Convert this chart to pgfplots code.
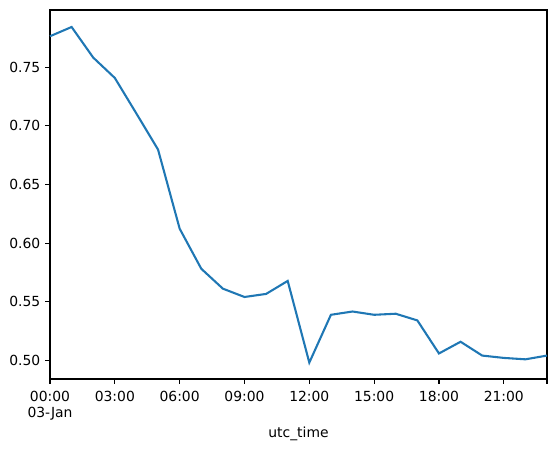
\documentclass[border=0pt]{standalone}
\usepackage{pgfplots}
\pgfplotsset{compat=1.18}
\usepackage{fontspec}
\setmainfont{DejaVu Sans}
\definecolor{tabblue}{HTML}{1F77B4}
\begin{document}
\fontsize{13.9}{16.7}\selectfont
\begin{tikzpicture}
\begin{axis}[
    scale only axis,
    width=497pt, height=369pt,
    xmin=0, xmax=23,
    ymin=0.484, ymax=0.7989,
    axis line style={line width=1.1pt},
    tick style={line width=1.1pt, black},
    major tick length=4.9pt,
    tick align=outside,
    xtick pos=bottom, ytick pos=left,
    xtick={0,3,6,9,12,15,18,21,23},
    xticklabels={{00:00\\03-Jan},03:00,06:00,09:00,12:00,15:00,18:00,21:00,{}},
    xticklabel style={align=center, yshift=-2pt},
    ytick={0.50,0.55,0.60,0.65,0.70,0.75},
    yticklabel style={/pgf/number format/fixed, /pgf/number format/fixed zerofill, /pgf/number format/precision=2},
    /pgf/number format/assume math mode=true,
    xlabel={utc\_time},
    xlabel style={yshift=3pt},
    clip=false,
]
\addplot[tabblue, line width=2.08pt] coordinates {
(0,0.7765) (1,0.7844) (2,0.7583) (3,0.7409) (4,0.7105) (5,0.6798)
(6,0.6123) (7,0.5781) (8,0.5611) (9,0.5540) (10,0.5566) (11,0.5677)
(12,0.4980) (13,0.5388) (14,0.5416) (15,0.5388) (16,0.5397) (17,0.5340)
(18,0.5058) (19,0.5158) (20,0.5040) (21,0.5020) (22,0.5008) (23,0.5040)
};
\path (rel axis cs:-0.1006,-0.1897) rectangle (rel axis cs:1.0181,1.0271);
\end{axis}
\end{tikzpicture}
\end{document}
